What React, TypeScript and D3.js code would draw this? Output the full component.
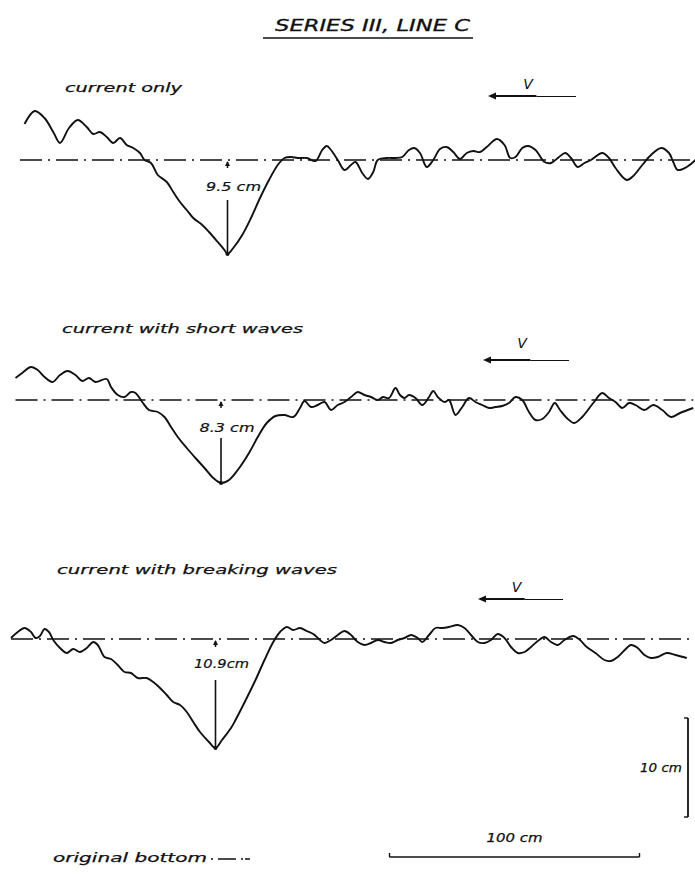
import React from "react";
import { curveCatmullRom, line, scaleLinear } from "d3";

// bed profiles, x = distance along flume (cm), z = bed level relative to original bottom (cm)
const currentOnly: [number, number][] = [
  [1.0, 3.6], [5.1, 4.9], [9.0, 4.2], [12.5, 2.8], [15.2, 1.7], [18.8, 3.2], [22.3, 4.0],
  [25.9, 3.3], [28.5, 2.6], [31.2, 2.8], [33.9, 2.3], [36.5, 1.7], [39.2, 2.2], [41.9, 1.5],
  [44.5, 1.2], [47.2, 0.7], [49.0, 0.0], [51.6, -0.3], [54.3, -1.5], [57.9, -2.2], [60.5, -3.2],
  [63.2, -4.2], [65.9, -5.0], [68.5, -5.8], [72.1, -6.5], [74.8, -7.2], [78.3, -8.2], [81.0, -9.0],
  [82.2, -9.4], [84.5, -8.8], [88.1, -7.5], [91.6, -5.8], [95.2, -3.8], [98.8, -2.0], [102.3, -0.5],
  [105.0, 0.2], [107.6, 0.3], [110.3, 0.2], [113.9, 0.2], [117.4, -0.1], [120.1, 1.0], [121.9, 1.4],
  [123.6, 1.0], [126.3, 0.0], [129.0, -1.0], [131.6, -0.5], [133.4, -0.2], [136.1, -1.3], [138.4, -1.9],
  [140.5, -1.2], [142.3, 0.0], [145.9, 0.2], [149.4, 0.2], [152.1, 0.3], [154.8, 1.0], [156.9, 1.2],
  [159.2, 0.7], [161.9, -0.7], [164.5, 0.0], [167.2, 1.1], [169.9, 1.3], [172.5, 0.8], [175.2, 0.1],
  [177.9, 0.7], [180.5, 0.9], [183.2, 0.8], [185.9, 1.3], [190.0, 2.1], [193.0, 1.5], [195.3, 0.2],
  [197.4, 0.3], [200.1, 1.2], [202.4, 1.4], [205.4, 1.0], [209.0, -0.2], [211.6, -0.3], [214.8, 0.3],
  [217.3, 0.7], [219.6, 0.2], [222.3, -0.7], [225.0, -0.3], [227.6, 0.0], [232.1, 0.7], [234.8, 0.2],
  [237.4, -0.8], [241.9, -2.0], [244.5, -1.6], [248.1, -0.5], [251.6, 0.5], [255.7, 1.2], [258.8, 0.7],
  [260.5, -0.2], [262.3, -1.0], [265.9, -0.7], [269.4, 0.0],
];

const shortWaves: [number, number][] = [
  [-2.6, 2.2], [0.1, 2.7], [3.6, 3.3], [6.3, 3.0], [9.0, 2.3], [12.2, 1.8], [15.2, 2.5], [18.2, 2.9],
  [21.4, 2.5], [24.1, 1.9], [26.8, 2.2], [29.4, 1.8], [33.9, 2.1], [35.6, 1.3], [38.3, 0.5], [41.0, 0.3],
  [43.6, 0.8], [45.4, 0.7], [48.1, -0.2], [50.8, -1.0], [54.3, -1.2], [57.0, -1.7], [59.6, -2.7],
  [62.3, -3.7], [65.9, -4.8], [69.4, -5.8], [73.0, -6.8], [76.5, -7.8], [79.6, -8.3], [82.8, -8.0],
  [86.3, -7.0], [90.8, -5.3], [94.3, -3.7], [97.9, -2.3], [101.4, -1.6], [105.0, -1.5], [108.5, -1.7],
  [111.2, -0.8], [113.0, -0.1], [115.6, -0.7], [118.3, -0.5], [121.0, -0.2], [123.6, -1.0], [126.3, -0.5],
  [129.0, -0.2], [131.6, 0.3], [134.3, 0.8], [137.0, 0.5], [139.6, 0.3], [142.3, 0.0], [144.4, 0.3],
  [146.8, 0.2], [149.4, 1.2], [151.2, 0.5], [153.0, 0.2], [154.8, 0.5], [157.4, 0.2], [160.1, -0.5],
  [162.8, 0.3], [164.5, 0.9], [166.3, 0.3], [169.0, -0.2], [170.8, 0.0], [173.4, -1.5], [176.1, -0.7],
  [178.8, 0.2], [181.4, -0.2], [184.1, -0.5], [186.8, -0.8], [189.4, -0.7], [192.1, -0.6], [194.8, -0.3],
  [197.4, 0.3], [200.1, 0.0], [202.8, -1.2], [205.4, -2.0], [208.1, -1.9], [210.8, -1.2], [213.1, -0.3],
  [215.2, -1.0], [217.9, -1.8], [220.9, -2.3], [224.1, -1.7], [228.5, -0.3], [232.1, 0.7], [234.8, 0.2],
  [237.4, -0.2], [240.1, -0.8], [242.8, -0.3], [245.4, -0.5], [249.0, -1.0], [252.5, -0.5], [256.1, -1.0],
  [259.6, -1.7], [263.2, -1.3], [268.5, -0.8],
];

const breakingWaves: [number, number][] = [
  [-4.4, 0.1], [-1.7, 0.7], [1.0, 1.1], [3.6, 0.7], [5.4, 0.1], [7.2, 0.3], [9.0, 1.0], [10.8, 0.7],
  [12.5, -0.1], [15.2, -0.9], [17.9, -1.4], [20.5, -1.0], [23.2, -1.3], [25.9, -0.9], [28.5, -0.3],
  [30.3, -0.6], [33.0, -1.8], [35.6, -2.0], [38.3, -2.6], [41.0, -3.3], [43.6, -3.4], [46.3, -3.9],
  [49.9, -3.9], [52.5, -4.3], [55.2, -4.9], [57.9, -5.6], [60.5, -6.3], [63.2, -6.6], [65.9, -7.3],
  [68.5, -8.3], [71.2, -9.3], [74.8, -10.3], [77.4, -10.9], [80.0, -10.1], [83.6, -8.9], [85.4, -8.1],
  [89.9, -5.9], [93.4, -4.1], [97.0, -2.1], [100.5, -0.3], [103.2, 0.7], [105.9, 1.2], [108.5, 0.9],
  [111.2, 1.1], [113.9, 0.8], [116.5, 0.5], [119.2, -0.1], [121.0, -0.4], [123.6, -0.1], [126.3, 0.4],
  [129.0, 0.8], [131.6, 0.4], [134.3, -0.3], [137.0, -0.6], [139.6, -0.4], [142.3, -0.1], [145.0, -0.3],
  [147.6, -0.4], [150.3, -0.1], [153.0, 0.1], [155.6, 0.4], [158.3, 0.1], [160.1, -0.3], [162.8, 0.4],
  [165.4, 1.1], [168.1, 1.1], [170.8, 1.2], [174.3, 1.4], [177.0, 1.1], [179.6, 0.4], [182.3, -0.3],
  [185.0, -0.4], [187.6, -0.1], [190.3, 0.5], [193.0, 0.1], [195.6, -0.8], [198.3, -1.4], [201.0, -1.3],
  [203.6, -0.8], [206.3, -0.2], [209.0, 0.2], [211.6, -0.3], [214.3, -0.6], [217.0, -0.1], [220.5, 0.3],
  [223.2, -0.1], [225.9, -0.8], [229.4, -1.4], [233.0, -2.1], [235.6, -2.2], [238.3, -1.8], [241.9, -0.9],
  [243.6, -0.6], [246.3, -0.9], [249.0, -1.6], [251.6, -1.9], [254.3, -1.8], [257.9, -1.4], [261.4, -1.6],
  [265.9, -1.9],
];

const profileNames = ["current only", "current with short waves", "current with breaking waves"];
const depthLabels = ["9.5 cm", "8.3 cm", "10.9cm"];
const baselineExtent: [number, number][] = [[-0.8, 269.2], [-2.6, 268.5], [-4.4, 268.8]];

const FONT = "'DejaVu Sans', sans-serif";
const INK = "#111";

const xScale = scaleLinear().domain([0, 100]).range([22, 272]);

const layout = [
  { base: 160, nameY: 92, nameX: 65, nameLen: 117, vY: 89, arrowY: 96, arrowX: [488, 576], depthY: 191, lineTop: 200 },
  { base: 400, nameY: 333, nameX: 62, nameLen: 241, vY: 348, arrowY: 360, arrowX: [483, 569], depthY: 432, lineTop: 438 },
  { base: 639, nameY: 574, nameX: 57, nameLen: 280, vY: 592, arrowY: 599, arrowX: [478, 563], depthY: 668, lineTop: 680 },
];

const profiles = [currentOnly, shortWaves, breakingWaves];

const Profile: React.FC<{ data: [number, number][]; i: number }> = ({ data, i }) => {
  const L = layout[i];
  const zScale = scaleLinear().domain([0, 10]).range([L.base, L.base - 100]);
  const path = line<[number, number]>()
    .x((d) => xScale(d[0]))
    .y((d) => zScale(d[1]))
    .curve(curveCatmullRom.alpha(0.5));
  const bottom = data.reduce((a, b) => (b[1] < a[1] ? b : a));
  const bx = xScale(bottom[0]);
  const by = zScale(bottom[1]);
  const [e0, e1] = baselineExtent[i];
  const ax = (L.arrowX[0] + L.arrowX[1]) / 2;
  const mid = L.arrowX[0] + (L.arrowX[1] - L.arrowX[0]) * 0.55;
  return (
    <g>
      <text x={L.nameX} y={L.nameY} fontSize={13} fontStyle="italic" fill={INK} stroke={INK} strokeWidth={0.25}
        textLength={L.nameLen} lengthAdjust="spacingAndGlyphs">
        {profileNames[i]}
      </text>
      <text x={ax - 4} y={L.vY} fontSize={14} fontStyle="italic" fill={INK} textAnchor="middle">V</text>
      <line x1={L.arrowX[0] + 4} x2={mid} y1={L.arrowY} y2={L.arrowY} stroke={INK} strokeWidth={1.8} />
      <line x1={mid} x2={L.arrowX[1]} y1={L.arrowY + 0.5} y2={L.arrowY + 0.5} stroke={INK} strokeWidth={1.2} />
      <path d={`M${L.arrowX[0]},${L.arrowY} l8,-3.5 v7 z`} fill={INK} />
      <line x1={xScale(e0)} x2={xScale(e1)} y1={L.base} y2={L.base} stroke={INK}
        strokeWidth={1.3} strokeDasharray="22,6,2,6" />
      <path d={path(data)!} fill="none" stroke={INK} strokeWidth={1.9} strokeLinejoin="round" />
      <line x1={bx} x2={bx} y1={L.base + 2} y2={L.base + 8} stroke={INK} strokeWidth={1.5} />
      <path d={`M${bx},${L.base + 1} l-2.5,5 h5 z`} fill={INK} />
      <text x={bx + 6} y={L.depthY} fontSize={12.5} fontStyle="italic" fill={INK} stroke={INK} strokeWidth={0.2}
        textAnchor="middle" textLength={55} lengthAdjust="spacingAndGlyphs">
        {depthLabels[i]}
      </text>
      <line x1={bx} x2={bx} y1={L.lineTop} y2={by} stroke={INK} strokeWidth={1.6} />
      <circle cx={bx} cy={by} r={2} fill={INK} />
    </g>
  );
};

export default function App() {
  const vBar = scaleLinear().domain([0, 10]).range([817, 718]);
  return (
    <svg width={695} height={876} style={{ position: "absolute", left: 0, top: 0, background: "#fff" }}
      fontFamily={FONT}>
      <text x={275} y={31} fontSize={15} fontStyle="italic" fill={INK} stroke={INK} strokeWidth={0.3}
        textLength={195} lengthAdjust="spacingAndGlyphs">
        SERIES III, LINE C
      </text>
      <line x1={263} x2={473} y1={38} y2={38} stroke={INK} strokeWidth={1.7} />

      {profiles.map((d, i) => (
        <Profile key={i} data={d} i={i} />
      ))}

      {/* vertical scale */}
      <line x1={688} x2={688} y1={vBar(0)} y2={vBar(10)} stroke={INK} strokeWidth={1.8} />
      <line x1={684} x2={688} y1={vBar(10)} y2={vBar(10)} stroke={INK} strokeWidth={1.4} />
      <line x1={684} x2={688} y1={vBar(0)} y2={vBar(0)} stroke={INK} strokeWidth={1.4} />
      <text x={640} y={772} fontSize={12} fontStyle="italic" fill={INK} stroke={INK} strokeWidth={0.25}
        textLength={42} lengthAdjust="spacingAndGlyphs">10 cm</text>

      {/* horizontal scale */}
      <line x1={xScale(147)} x2={xScale(247)} y1={857} y2={857} stroke={INK} strokeWidth={1.6} />
      <line x1={xScale(147)} x2={xScale(147)} y1={853} y2={857} stroke={INK} strokeWidth={1.4} />
      <line x1={xScale(247)} x2={xScale(247)} y1={853} y2={857} stroke={INK} strokeWidth={1.4} />
      <text x={xScale(197)} y={842} fontSize={12} fontStyle="italic" fill={INK} stroke={INK} strokeWidth={0.25}
        textAnchor="middle" textLength={56} lengthAdjust="spacingAndGlyphs">100 cm</text>

      {/* legend */}
      <text x={53} y={862} fontSize={13} fontStyle="italic" fill={INK} stroke={INK} strokeWidth={0.25}
        textLength={154} lengthAdjust="spacingAndGlyphs">original bottom</text>
      <line x1={211} x2={250} y1={859} y2={859} stroke={INK} strokeWidth={1.3} strokeDasharray="2,5,18,5,2" />
    </svg>
  );
}
